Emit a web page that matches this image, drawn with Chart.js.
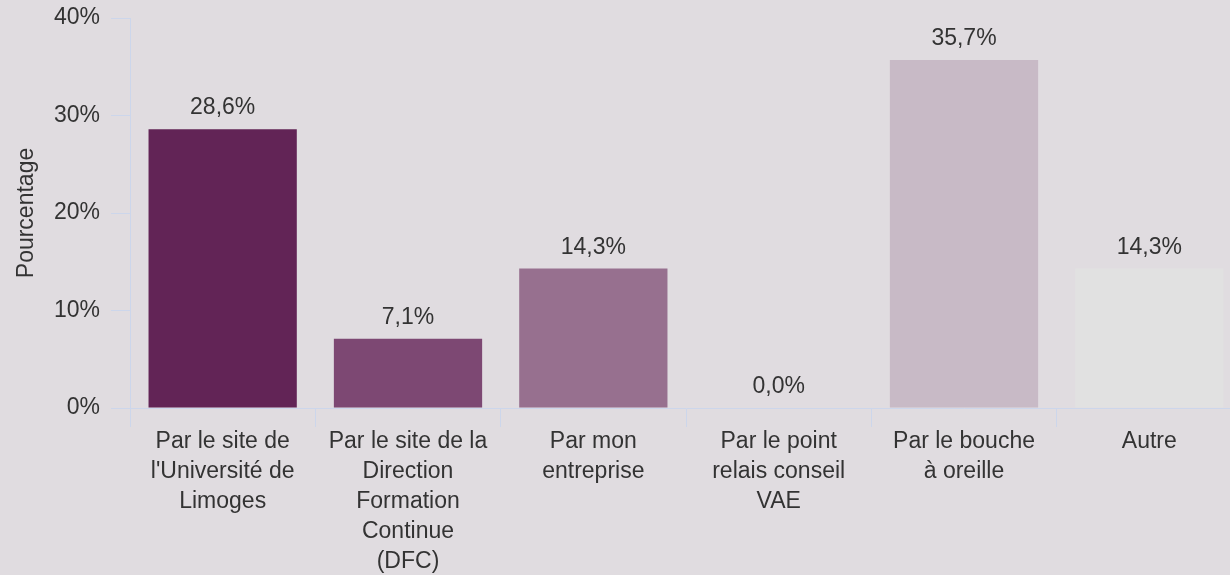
<!DOCTYPE html>
<html>
<head>
<meta charset="utf-8">
<script src="https://cdn.jsdelivr.net/npm/chart.js@4"></script>
<style>
    html, body { margin: 0; padding: 0; background: #e0dce0; overflow: hidden; }
    #wrap { width: 1242px; height: 575px; }
</style>
</head>
<body>
<div id="wrap"><canvas id="barChart"></canvas></div>
<script>
const categories = [
    ["Par le site de", "l'Université de", "Limoges"],
    ["Par le site de la", "Direction", "Formation", "Continue", "(DFC)"],
    ["Par mon", "entreprise"],
    ["Par le point", "relais conseil", "VAE"],
    ["Par le bouche", "à oreille"],
    ["Autre"]
];
const percentages = [28.6, 7.1, 14.3, 0.0, 35.7, 14.3];
const barColors = ["#622456", "#7d4873", "#97708f", "#b09aad", "#c8bac6", "#e1e1e1"];
const yTicks = [0, 10, 20, 30, 40];

const fontFamily = "'Liberation Sans', Arial, sans-serif";
const fontSize = 23;
const textColor = "#333333";
const lineColor = "#ccd6eb";

// draws the value above each bar
const valueLabels = {
    id: "valueLabels",
    afterDatasetsDraw(chart) {
        let ctx = chart.ctx;
        let meta = chart.getDatasetMeta(0);
        ctx.save();
        ctx.font = fontSize + "px " + fontFamily;
        ctx.fillStyle = textColor;
        ctx.textAlign = "center";
        ctx.textBaseline = "middle";
        meta.data.forEach((bar, i) => {
            let txt = percentages[i].toFixed(1).replace(".", ",") + "%";
            ctx.fillText(txt, bar.x, bar.y - 21);
        });
        ctx.restore();
    }
};

let ctx = document.getElementById("barChart").getContext("2d");
new Chart(ctx, {
    type: "bar",
    data: {
        labels: categories,
        datasets: [{
            data: percentages,
            backgroundColor: barColors,
            barPercentage: 0.8,
            categoryPercentage: 1.0
        }]
    },
    options: {
        responsive: true,
        maintainAspectRatio: false,
        animation: false,
        layout: { padding: { top: 18, right: 0, bottom: 0, left: 0 } },
        plugins: {
            legend: { display: false },
            tooltip: { enabled: false }
        },
        scales: {
            x: {
                grid: { drawOnChartArea: false, tickLength: 19, color: lineColor },
                border: { color: lineColor },
                ticks: {
                    color: textColor,
                    font: { family: fontFamily, size: fontSize, lineHeight: 30 / fontSize },
                    padding: 0,
                    maxRotation: 0,
                    autoSkip: false
                },
                afterFit: s => { s.height = 167; s.paddingLeft = 0; s.paddingRight = 0; }
            },
            y: {
                min: 0,
                max: 40,
                afterBuildTicks: s => { s.ticks = yTicks.map(v => ({ value: v })); },
                grid: { drawOnChartArea: false, tickLength: 19, color: lineColor },
                border: { color: lineColor },
                ticks: {
                    color: textColor,
                    font: { family: fontFamily, size: fontSize },
                    padding: 11,
                    callback: v => v + "%"
                },
                title: {
                    display: true,
                    text: "Pourcentage",
                    color: textColor,
                    font: { family: fontFamily, size: fontSize },
                    padding: { top: 13, bottom: 0 }
                },
                afterFit: s => { s.width = 130; s.paddingTop = 0; s.paddingBottom = 0; }
            }
        }
    },
    plugins: [valueLabels]
});
</script>
</body>
</html>
